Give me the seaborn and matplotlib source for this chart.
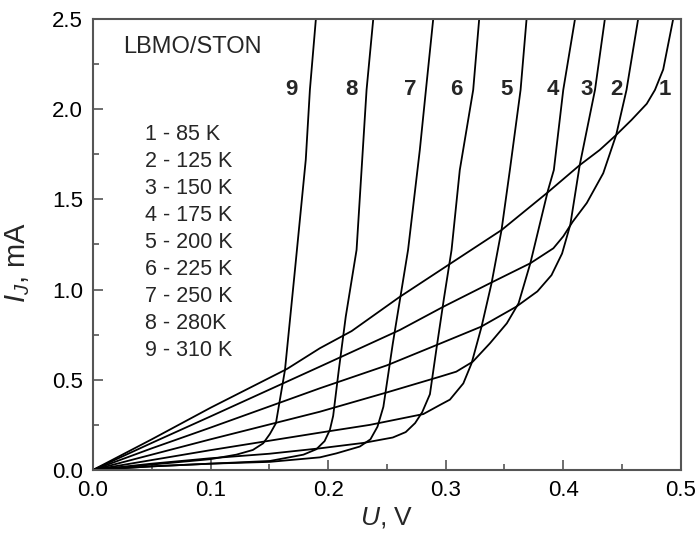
import matplotlib
matplotlib.use("Agg")
import matplotlib.pyplot as plt
import seaborn as sns
import pandas as pd
from matplotlib.ticker import MultipleLocator, FormatStrFormatter

# I-V curves of the LBMO/STON junction, one (U, I) list per temperature
temps = ["85 K", "125 K", "150 K", "175 K", "200 K", "225 K", "250 K", "280K", "310 K"]

u1 = [0, 0.05, 0.10, 0.165, 0.193, 0.22, 0.261, 0.30, 0.3475, 0.387, 0.414, 0.431, 0.445, 0.458, 0.471, 0.478, 0.485, 0.4935]
i1 = [0, 0.17, 0.345, 0.56, 0.675, 0.77, 0.96, 1.127, 1.33, 1.54, 1.69, 1.774, 1.857, 1.94, 2.03, 2.107, 2.22, 2.5]
u2 = [0, 0.05, 0.10, 0.193, 0.261, 0.298, 0.3376, 0.372, 0.3916, 0.400, 0.408, 0.420, 0.434, 0.445, 0.4538, 0.4637]
i2 = [0, 0.15, 0.297, 0.573, 0.776, 0.905, 1.035, 1.146, 1.229, 1.295, 1.376, 1.48, 1.645, 1.857, 2.107, 2.5]
u3 = [0, 0.05, 0.10, 0.193, 0.25, 0.295, 0.33, 0.36, 0.378, 0.39, 0.399, 0.406, 0.414, 0.427, 0.4354]
i3 = [0, 0.12, 0.235, 0.453, 0.58, 0.70, 0.794, 0.905, 0.99, 1.08, 1.2, 1.36, 1.69, 2.107, 2.5]
u4 = [0, 0.05, 0.10, 0.193, 0.25, 0.295, 0.309, 0.323, 0.3376, 0.352, 0.362, 0.372, 0.387, 0.392, 0.400, 0.41]
i4 = [0, 0.085, 0.17, 0.323, 0.43, 0.517, 0.545, 0.60, 0.702, 0.813, 0.924, 1.146, 1.55, 1.663, 2.107, 2.5]
u5 = [0, 0.05, 0.10, 0.193, 0.2355, 0.281, 0.295, 0.3036, 0.315, 0.322, 0.3305, 0.339, 0.3475, 0.3546, 0.3637, 0.3688]
i5 = [0, 0.055, 0.11, 0.207, 0.25, 0.31, 0.36, 0.39, 0.48, 0.591, 0.794, 1.035, 1.33, 1.663, 2.107, 2.5]
u6 = [0, 0.05, 0.10, 0.15, 0.193, 0.23, 0.255, 0.266, 0.274, 0.28, 0.2866, 0.292, 0.2985, 0.305, 0.312, 0.3234, 0.3285]
i6 = [0, 0.035, 0.065, 0.09, 0.12, 0.15, 0.18, 0.21, 0.26, 0.32, 0.42, 0.665, 0.95, 1.22, 1.663, 2.107, 2.5]
u7 = [0, 0.05, 0.10, 0.1505, 0.193, 0.207, 0.227, 0.236, 0.242, 0.247, 0.255, 0.268, 0.278, 0.2832, 0.2894]
i7 = [0, 0.02, 0.035, 0.045, 0.07, 0.092, 0.13, 0.17, 0.24, 0.35, 0.70, 1.22, 1.774, 2.107, 2.5]
u8 = [0, 0.05, 0.10, 0.1505, 0.179, 0.190, 0.197, 0.2015, 0.2043, 0.209, 0.215, 0.2242, 0.2327, 0.2384]
i8 = [0, 0.02, 0.035, 0.05, 0.085, 0.115, 0.16, 0.222, 0.30, 0.55, 0.85, 1.22, 2.107, 2.5]
u9 = [0, 0.05, 0.10, 0.122, 0.136, 0.1448, 0.1505, 0.1556, 0.1633, 0.1718, 0.181, 0.1845, 0.1896]
i9 = [0, 0.03, 0.06, 0.085, 0.111, 0.148, 0.20, 0.259, 0.554, 1.109, 1.72, 2.107, 2.5]

curves_u = [u1, u2, u3, u4, u5, u6, u7, u8, u9]
curves_i = [i1, i2, i3, i4, i5, i6, i7, i8, i9]

# curve numbers written above the steep branches, and their positions
curve_tags = ["1", "2", "3", "4", "5", "6", "7", "8", "9"]
tag_u = [0.486, 0.4453, 0.4198, 0.3914, 0.3518, 0.309, 0.2696, 0.2200, 0.169]
tag_i = 2.107

frames = []
for k, (u, i) in enumerate(zip(curves_u, curves_i)):
    frames.append(pd.DataFrame({"U": u, "I": i, "curve": k + 1}))
df = pd.concat(frames, ignore_index=True)

sns.set_theme(style="white")
plt.rcParams["font.family"] = ["Liberation Sans", "DejaVu Sans"]
plt.rcParams["mathtext.fontset"] = "custom"
plt.rcParams["mathtext.rm"] = "Liberation Sans"
plt.rcParams["mathtext.it"] = "Liberation Sans:italic"

fig = plt.figure(figsize=(6.99, 5.37), dpi=100)
ax = fig.add_axes([0.133, 0.1248, 0.841, 0.8398])

sns.lineplot(data=df, x="U", y="I", units="curve", estimator=None, sort=False,
             color="black", linewidth=1.3, ax=ax)

ax.set_xlim(0, 0.5)
ax.set_ylim(0, 2.5)
ax.xaxis.set_major_locator(MultipleLocator(0.1))
ax.xaxis.set_minor_locator(MultipleLocator(0.05))
ax.yaxis.set_major_locator(MultipleLocator(0.5))
ax.yaxis.set_minor_locator(MultipleLocator(0.25))
ax.xaxis.set_major_formatter(FormatStrFormatter("%.1f"))
ax.yaxis.set_major_formatter(FormatStrFormatter("%.1f"))
ax.tick_params(which="both", direction="in", bottom=True, left=True, top=False, right=False,
               colors="#555555", labelcolor="black", labelsize=16, width=1.2)
ax.tick_params(which="major", length=7, pad=7)
ax.tick_params(which="minor", length=4)
for s in ax.spines.values():
    s.set_color("#555555")
    s.set_linewidth(1.5)

ax.set_xlabel(r"$U$, V", fontsize=19, labelpad=3)
ax.set_ylabel(r"$I_J$, mA", fontsize=21)
ax.yaxis.set_label_coords(-0.103, 0.46)

ax.text(0.0255, 2.345, "LBMO/STON", fontsize=17, va="center", ha="left")
leg_y0 = 1.857
for k, t in enumerate(temps):
    ax.text(0.0442, leg_y0 - k * 0.1495, f"{k + 1} - {t}", fontsize=15.5, va="center", ha="left")
for tag, tu in zip(curve_tags, tag_u):
    ax.text(tu, tag_i, tag, fontsize=16, fontweight="bold", va="center", ha="center")

fig.savefig("out.png", dpi=100)
